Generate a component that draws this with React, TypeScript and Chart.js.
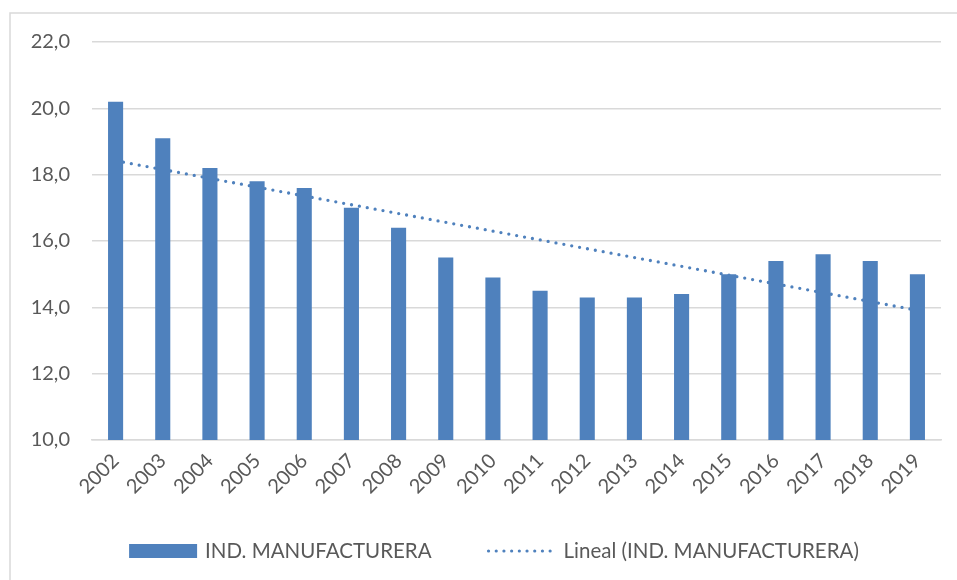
import React, { useEffect, useRef } from "react";
import { Chart, registerables } from "chart.js";

Chart.register(...registerables);

const years = ["2002","2003","2004","2005","2006","2007","2008","2009","2010","2011","2012","2013","2014","2015","2016","2017","2018","2019"];
const manufacturera = [20.2, 19.1, 18.2, 17.8, 17.6, 17.0, 16.4, 15.5, 14.9, 14.5, 14.3, 14.3, 14.4, 15.0, 15.4, 15.6, 15.4, 15.0];
const trendStart = 18.42;
const trendEnd = 13.91;
const yTicks = [10, 12, 14, 16, 18, 20, 22];
const barLabel = "IND. MANUFACTURERA";
const trendLabel = "Lineal (IND. MANUFACTURERA)";

const BAR_COLOR = "#4f81bd";
const TEXT_COLOR = "#595959";
const GRID_COLOR = "#d9d9d9";
const FONT = "Lato";

export default function App() {
  const ref = useRef<HTMLCanvasElement | null>(null);

  useEffect(() => {
    document.body.style.margin = "0";
    const canvas = ref.current!;
    const trendData = years.map((_, i) => (i === 0 ? trendStart : i === years.length - 1 ? trendEnd : null));

    const framePlugin = {
      id: "frame",
      beforeDraw(chart: any) {
        const ctx = chart.ctx;
        ctx.save();
        ctx.fillStyle = "#ffffff";
        ctx.fillRect(0, 0, chart.width, chart.height);
        ctx.strokeStyle = GRID_COLOR;
        ctx.lineWidth = 1.5;
        ctx.strokeRect(10, 13, 2000, 2000);
        ctx.restore();
      },
      afterDraw(chart: any) {
        const ctx = chart.ctx;
        ctx.save();
        ctx.font = `20.5px ${FONT}`;
        ctx.textBaseline = "middle";
        ctx.fillStyle = TEXT_COLOR;
        const sw = 68, gap = 8, sep = 55, dotW = 70, gap2 = 7;
        const w1 = ctx.measureText(barLabel).width;
        const w2 = ctx.measureText(trendLabel).width;
        const total = sw + gap + w1 + sep + dotW + gap2 + w2;
        let x = 494 - total / 2;
        const y = 551;
        ctx.fillStyle = BAR_COLOR;
        ctx.fillRect(x, y - 7, sw, 14);
        x += sw + gap;
        ctx.fillStyle = TEXT_COLOR;
        ctx.fillText(barLabel, x, y);
        x += w1 + sep;
        ctx.strokeStyle = BAR_COLOR;
        ctx.lineWidth = 3.2;
        ctx.lineCap = "round";
        ctx.setLineDash([0, 7.7]);
        ctx.beginPath();
        ctx.moveTo(x + 2, y);
        ctx.lineTo(x + dotW, y);
        ctx.stroke();
        ctx.setLineDash([]);
        x += dotW + gap2;
        ctx.fillText(trendLabel, x, y);
        ctx.restore();
      },
    };

    const chart = new Chart(canvas, {
      type: "bar",
      data: {
        labels: years,
        datasets: [
          {
            type: "bar",
            label: barLabel,
            data: manufacturera,
            backgroundColor: BAR_COLOR,
            categoryPercentage: 1,
            barPercentage: 0.32,
            order: 1,
          },
          {
            type: "line",
            label: trendLabel,
            data: trendData as any,
            spanGaps: true,
            borderColor: BAR_COLOR,
            borderWidth: 3.3,
            borderDash: [0, 8],
            borderCapStyle: "round",
            pointRadius: 0,
            fill: false,
            order: 2,
          } as any,
        ],
      },
      options: {
        animation: false,
        responsive: false,
        devicePixelRatio: 1,
        layout: { padding: { top: 42, left: 0, right: 16, bottom: 0 } },
        plugins: { legend: { display: false }, tooltip: { enabled: false } },
        scales: {
          x: {
            grid: { display: false },
            border: { display: true, color: GRID_COLOR, width: 1.5 },
            ticks: {
              color: TEXT_COLOR,
              font: { family: FONT, size: 20 },
              minRotation: 45,
              maxRotation: 45,
              padding: 1,
              autoSkip: false,
            },
            afterFit(scale: any) {
              scale.height = 140;
            },
          },
          y: {
            min: 10,
            max: 22,
            afterBuildTicks(scale: any) {
              scale.ticks = yTicks.map((v) => ({ value: v }));
            },
            grid: { color: GRID_COLOR, lineWidth: 1.5, drawTicks: false },
            border: { display: false },
            ticks: {
              color: TEXT_COLOR,
              font: { family: FONT, size: 20 },
              padding: 22,
              callback: (v: any) => Number(v).toFixed(1).replace(".", ","),
            },
            afterFit(scale: any) {
              scale.width = 92;
            },
          },
        },
      },
      plugins: [framePlugin],
    });
    return () => chart.destroy();
  }, []);

  return <canvas ref={ref} width={957} height={580} style={{ display: "block" }} />;
}
